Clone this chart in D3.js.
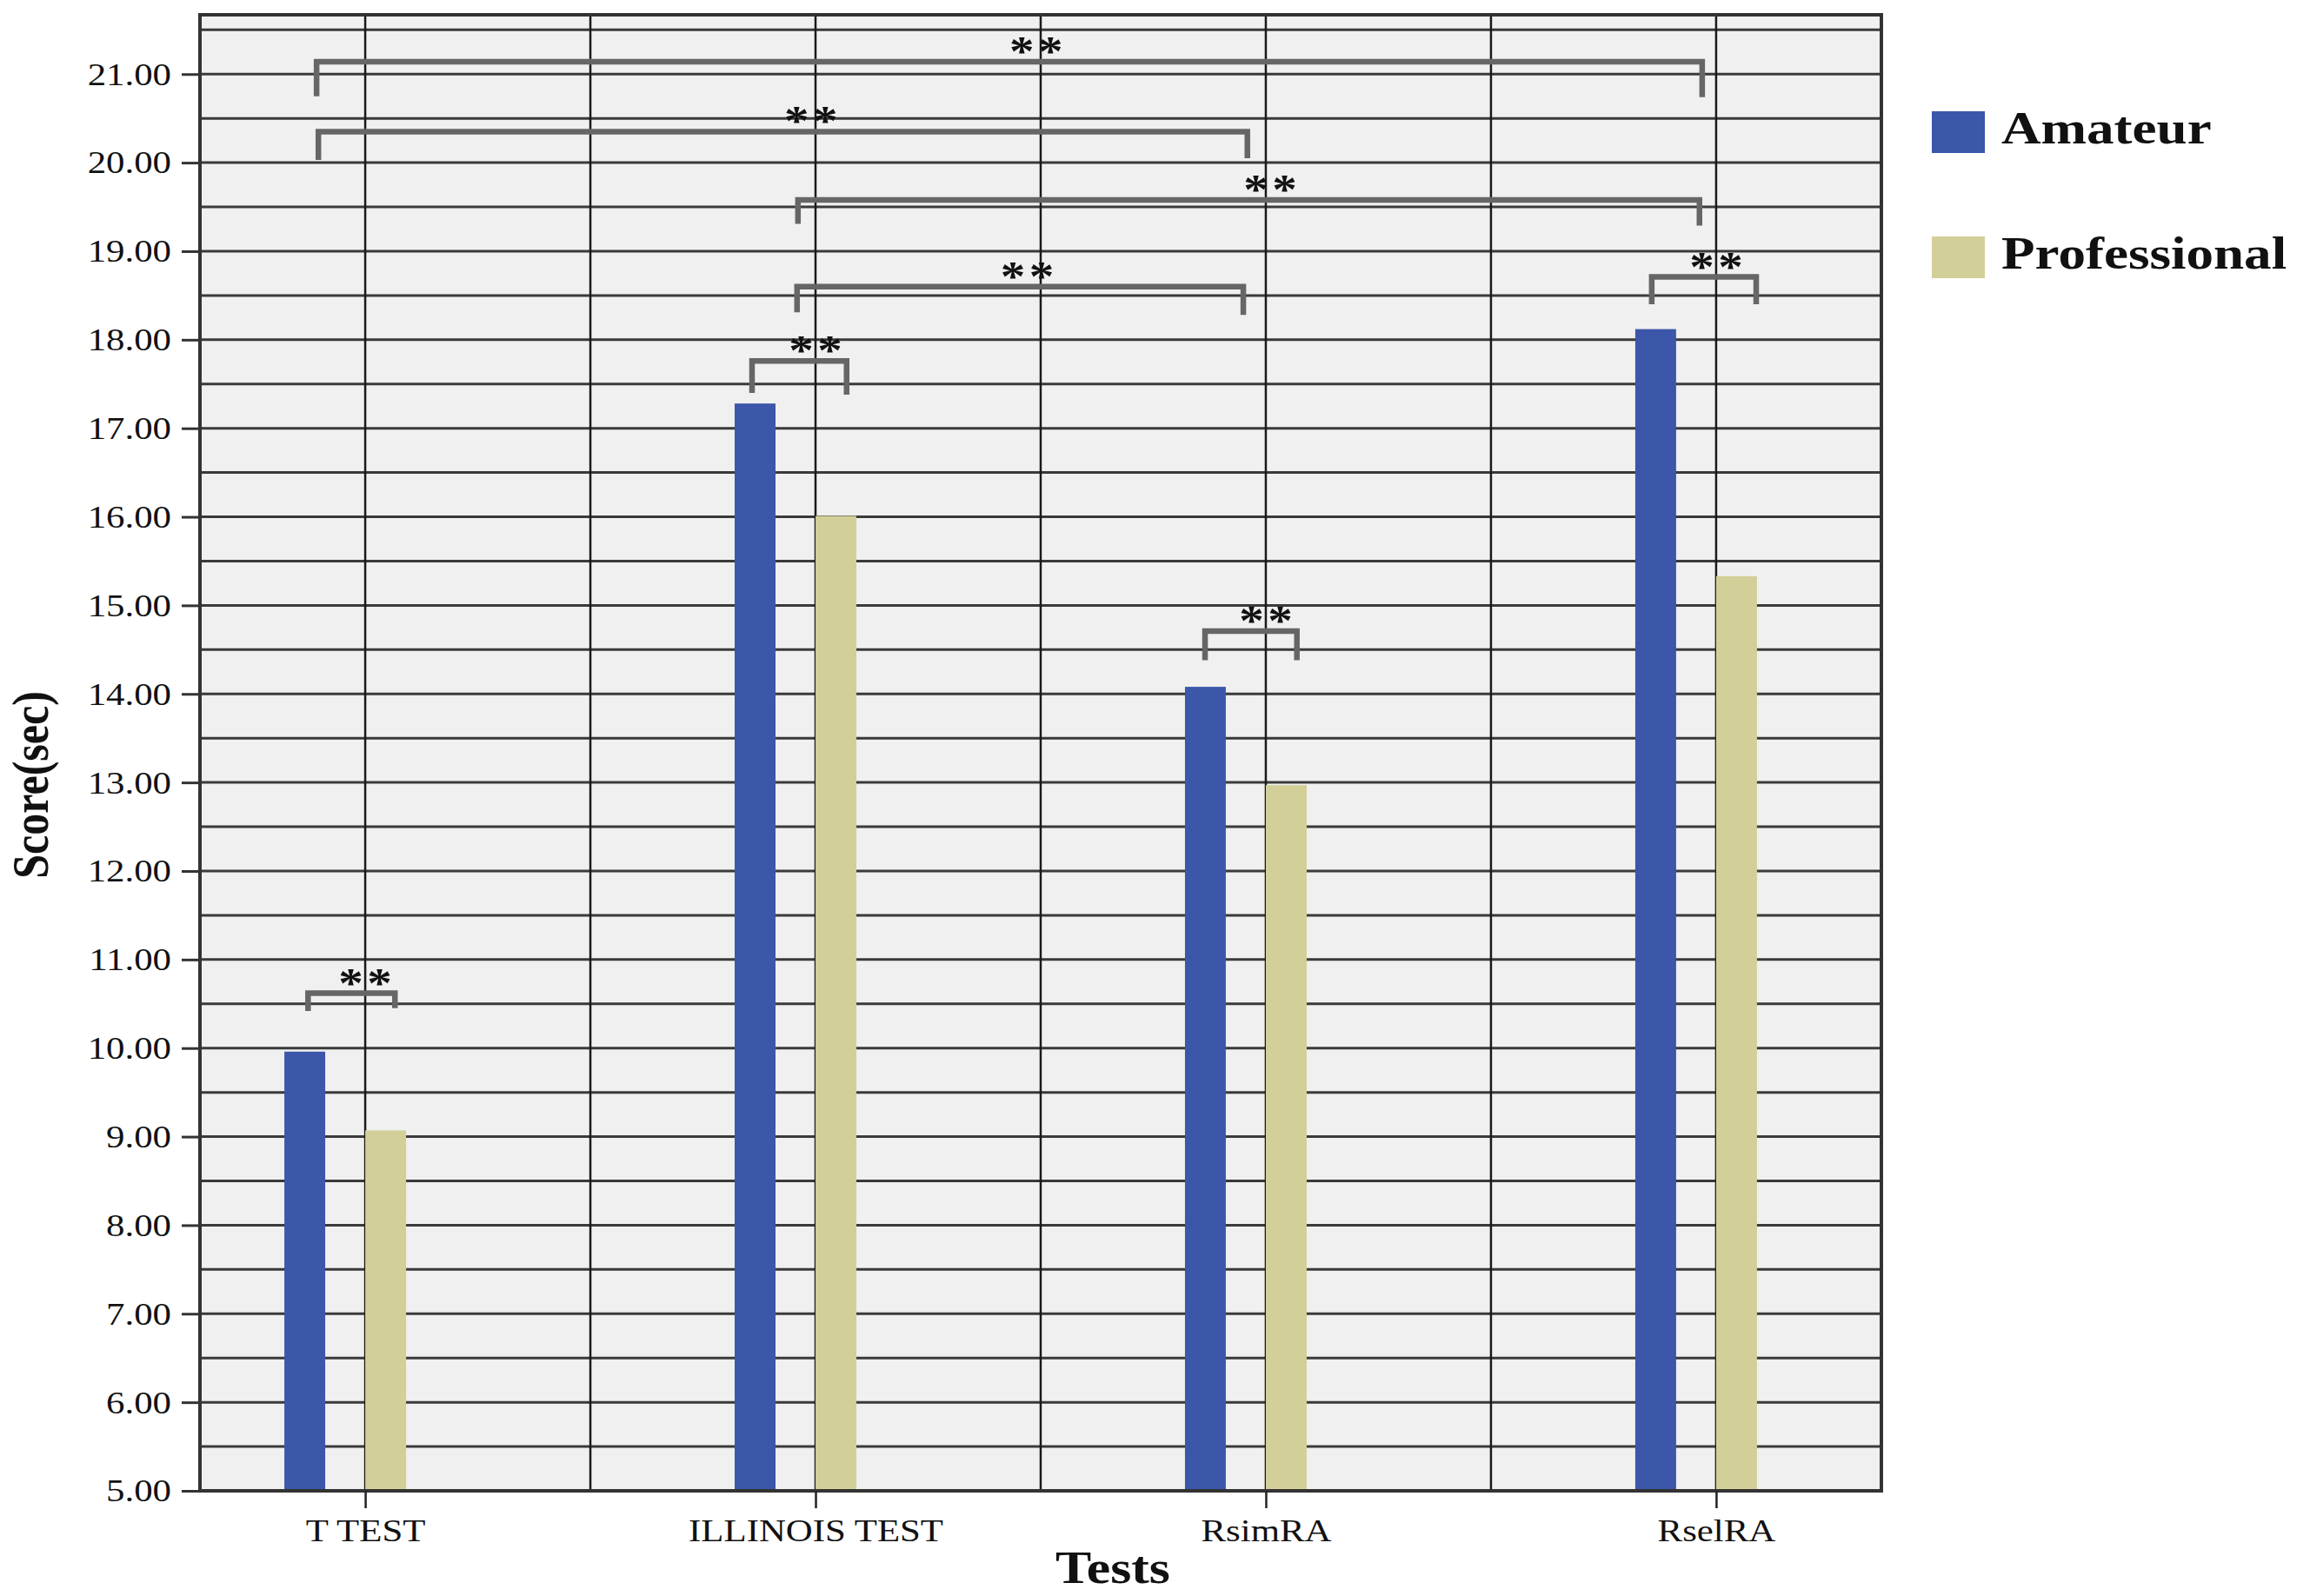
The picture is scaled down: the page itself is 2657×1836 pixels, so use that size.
<!DOCTYPE html>
<html>
<head>
<meta charset="utf-8">
<script src="https://cdn.jsdelivr.net/npm/d3@7"></script>
<style>
  body { margin: 0; background: #fff; }
  text { font-family: "Liberation Serif", "Times New Roman", serif; }
</style>
</head>
<body>
<div id="chart"></div>
<script>
const w = 2657;
const h = 1836;
const padL = 230, padR = 2164, padT = 17, padB = 1715;
const S = 1.19; // the source picture is stretched sideways

const categories = ["T TEST", "ILLINOIS TEST", "RsimRA", "RselRA"];
const seriesNames = ["Amateur", "Professional"];
const amateur = [9.96, 17.28, 14.08, 18.12];
const professional = [9.07, 16.01, 12.97, 15.33];
const yTicks = d3.range(5, 21.01, 1);
const yGrid = d3.range(5, 21.51, 0.5);
const colors = ["#3c56a9", "#d3cf98"];

// significance brackets, x in category units (0 = first test), y in score units
const brackets = [
  {from: -0.108, to: 2.969, high: 21.14, yl: 20.75, yr: 20.74, star: 1.49},
  {from: -0.104, to: 1.959, high: 20.35, yl: 20.03, yr: 20.05, star: 0.99},
  {from: 0.959, to: 1.950, high: 18.60, yl: 18.31, yr: 18.28, star: 1.47},
  {from: 0.961, to: 2.963, high: 19.58, yl: 19.31, yr: 19.29, star: 2.01},
  {from: 1.865, to: 2.069, high: 14.71, yl: 14.38, yr: 14.38, star: 2.0},
  {from: 2.857, to: 3.089, high: 18.71, yl: 18.40, yr: 18.40, star: 3.0},
  {from: 0.859, to: 1.069, high: 17.76, yl: 17.40, yr: 17.38, star: 1.0},
  {from: -0.127, to: 0.066, high: 10.62, yl: 10.42, yr: 10.45, star: 0.0}
];

let svg = d3.select("#chart").append("svg").attr("width", w).attr("height", h);
svg.append("rect").attr("width", w).attr("height", h).attr("fill", "#fff");

let x = d3.scalePoint().domain(categories).range([padL, padR]).padding(0.367);
let xu = d3.scaleLinear().domain([0, 3]).range([x(categories[0]), x(categories[3])]);
let sub = d3.scaleBand().domain(seriesNames).range([-93, 47]).paddingInner(0.495);
let y = d3.scaleLinear().domain([5, 21.67]).range([padB, padT]);

function label(parent, px, py, str, size, weight, anchor, sx) {
  return parent.append("g").attr("transform", "translate(" + px + "," + py + ") scale(" + sx + ",1)")
    .append("text").attr("font-size", size).attr("font-weight", weight)
    .attr("text-anchor", anchor).attr("fill", "#111").text(str);
}

// plot background
svg.append("rect").attr("x", padL).attr("y", padT).attr("width", padR - padL).attr("height", padB - padT)
  .attr("fill", "#f0f0f0");

// grid
svg.append("g").selectAll("line").data(yGrid).enter().append("line")
  .attr("x1", padL).attr("x2", padR).attr("y1", (d) => y(d)).attr("y2", (d) => y(d))
  .attr("stroke", "#3a3a3a").attr("stroke-width", 3);
svg.append("g").selectAll("line").data(d3.range(0, 3.01, 0.5)).enter().append("line")
  .attr("x1", (d) => xu(d)).attr("x2", (d) => xu(d)).attr("y1", padT).attr("y2", padB)
  .attr("stroke", "#1a1a1a").attr("stroke-width", 2.5);

// bars
let rows = categories.map((c, i) => [
  {cat: c, s: seriesNames[0], v: amateur[i]},
  {cat: c, s: seriesNames[1], v: professional[i]}
]).flat();
svg.append("g").selectAll("rect").data(rows).enter().append("rect")
  .attr("x", (d) => x(d.cat) + sub(d.s)).attr("width", sub.bandwidth())
  .attr("y", (d) => y(d.v)).attr("height", (d) => y(5) - y(d.v))
  .attr("fill", (d, i) => colors[i % 2]);

// brackets
svg.append("g").selectAll("path").data(brackets).enter().append("path")
  .attr("d", (d) => "M" + xu(d.from) + "," + y(d.yl) + "V" + y(d.high) + "H" + xu(d.to) + "V" + y(d.yr))
  .attr("fill", "none").attr("stroke", "#666").attr("stroke-width", 6.5);
brackets.forEach(function(d) {
  [-16.5, 16.5].forEach(function(off) {
    label(svg, xu(d.star) + off, y(d.high) + 4, "*", 48, "bold", "middle", S);
  });
});

// frame
svg.append("rect").attr("x", padL).attr("y", padT).attr("width", padR - padL).attr("height", padB - padT)
  .attr("fill", "none").attr("stroke", "#333").attr("stroke-width", 4);

// axes
let gy = svg.append("g").attr("transform", "translate(" + padL + ",0)")
  .call(d3.axisLeft(y).tickValues(yTicks).tickFormat(d3.format(".2f")).tickSize(21).tickSizeOuter(0));
gy.select(".domain").remove();
gy.selectAll("line").attr("stroke", "#333").attr("stroke-width", 3);
gy.selectAll("text").attr("font-size", 36).attr("font-family", "Liberation Serif").attr("fill", "#111")
  .attr("x", -33 / S).attr("dy", "0.33em").attr("transform", "scale(" + S + ",1)");

let gx = svg.append("g").attr("transform", "translate(0," + padB + ")")
  .call(d3.axisBottom(x).tickSize(20).tickSizeOuter(0));
gx.select(".domain").remove();
gx.selectAll("line").attr("stroke", "#222").attr("stroke-width", 2.5);
gx.selectAll("text").attr("font-size", 36).attr("font-family", "Liberation Serif").attr("fill", "#111")
  .attr("y", 58).attr("dy", 0).attr("transform", "scale(" + S + ",1)");

// axis titles
label(svg, 1280, 1821, "Tests", 52, "bold", "middle", S);
svg.append("g").attr("transform", "translate(55,903) scale(" + S + ",1) rotate(-90)")
  .append("text").attr("font-size", 50).attr("font-weight", "bold").attr("text-anchor", "middle")
  .attr("fill", "#111").text("Score(sec)");

// legend
let legendY = [128, 272];
seriesNames.forEach(function(name, i) {
  svg.append("rect").attr("x", 2222).attr("y", legendY[i]).attr("width", 61).attr("height", 48)
    .attr("fill", colors[i]);
  label(svg, 2302, legendY[i] + 37, name, 53, "bold", "start", S);
});
</script>
</body>
</html>
